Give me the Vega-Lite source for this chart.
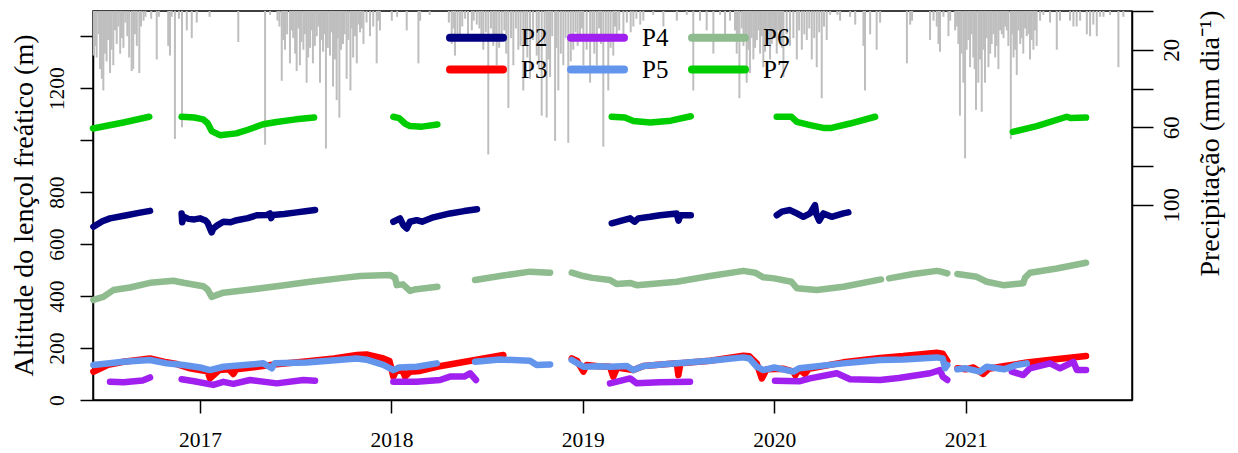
{
"$schema": "https://vega.github.io/schema/vega-lite/v6.json",
"width": 1039, "height": 389,
"autosize": {"type": "none"},
"padding": {"left": 93, "top": 11, "right": 106, "bottom": 53},
"background": "white",
"config": {
  "view": {"stroke": "black", "strokeWidth": 1.5},
  "font": "Liberation Serif",
  "axis": {"grid": false, "domainColor": "black", "tickColor": "black", "labelColor": "black", "titleColor": "black", "labelFont": "Liberation Serif", "titleFont": "Liberation Serif", "labelFontSize": 21.5, "titleFontSize": 28, "titleFontWeight": "normal", "domainWidth": 1.5, "tickWidth": 1.5}
},
"resolve": {"scale": {"y": "independent"}, "axis": {"y": "independent"}},
"layer": [
{
  "data": {"values": [
{"t":2016.445,"p":23},{"t":2016.452,"p":18},{"t":2016.46,"p":24},{"t":2016.47,"p":12},{"t":2016.478,"p":30},{"t":2016.487,"p":35},{"t":2016.495,"p":41},{"t":2016.503,"p":22},{"t":2016.512,"p":26},{"t":2016.52,"p":15},{"t":2016.53,"p":32},{"t":2016.538,"p":20},{"t":2016.547,"p":28},{"t":2016.556,"p":10},{"t":2016.565,"p":17},{"t":2016.574,"p":8},{"t":2016.583,"p":22},{"t":2016.592,"p":14},{"t":2016.6,"p":19},{"t":2016.61,"p":6},{"t":2016.62,"p":13},{"t":2016.63,"p":24},{"t":2016.643,"p":31},{"t":2016.651,"p":30},{"t":2016.66,"p":12},{"t":2016.67,"p":18},{"t":2016.683,"p":32},{"t":2016.692,"p":8},{"t":2016.705,"p":5},{"t":2016.715,"p":3},{"t":2016.745,"p":4},{"t":2016.774,"p":25},{"t":2016.785,"p":3},{"t":2016.834,"p":18},{"t":2016.843,"p":23},{"t":2016.852,"p":3},{"t":2016.869,"p":66},{"t":2016.89,"p":4},{"t":2016.906,"p":60},{"t":2016.931,"p":10},{"t":2016.957,"p":14},{"t":2016.983,"p":6},{"t":2017.05,"p":3},{"t":2017.2,"p":16},{"t":2017.34,"p":69},{"t":2017.366,"p":2},
{"t":2017.405,"p":5},{"t":2017.415,"p":8},{"t":2017.427,"p":36},{"t":2017.435,"p":15},{"t":2017.444,"p":20},{"t":2017.455,"p":12},{"t":2017.47,"p":27},{"t":2017.48,"p":10},{"t":2017.487,"p":14},{"t":2017.497,"p":22},{"t":2017.505,"p":31},{"t":2017.513,"p":9},{"t":2017.522,"p":28},{"t":2017.53,"p":16},{"t":2017.54,"p":20},{"t":2017.548,"p":12},{"t":2017.557,"p":37},{"t":2017.565,"p":24},{"t":2017.575,"p":19},{"t":2017.583,"p":10},{"t":2017.59,"p":27},{"t":2017.6,"p":18},{"t":2017.61,"p":13},{"t":2017.618,"p":8},{"t":2017.627,"p":37},{"t":2017.635,"p":15},{"t":2017.643,"p":21},{"t":2017.65,"p":12},{"t":2017.658,"p":71},{"t":2017.668,"p":19},{"t":2017.679,"p":23},{"t":2017.687,"p":11},{"t":2017.695,"p":39},{"t":2017.705,"p":25},{"t":2017.714,"p":46},{"t":2017.72,"p":14},{"t":2017.728,"p":55},{"t":2017.737,"p":20},{"t":2017.747,"p":17},{"t":2017.756,"p":12},{"t":2017.766,"p":35},{"t":2017.775,"p":15},{"t":2017.786,"p":41},{"t":2017.793,"p":9},{"t":2017.8,"p":24},{"t":2017.81,"p":13},{"t":2017.819,"p":27},{"t":2017.828,"p":7},{"t":2017.836,"p":11},{"t":2017.845,"p":9},{"t":2017.854,"p":17},{"t":2017.87,"p":6},{"t":2017.888,"p":13},{"t":2017.905,"p":8},{"t":2017.923,"p":27},{"t":2017.93,"p":5},{"t":2017.94,"p":10},
{"t":2018.002,"p":5},{"t":2018.03,"p":3},{"t":2018.08,"p":10},{"t":2018.141,"p":27},{"t":2018.15,"p":5},{"t":2018.2,"p":2},
{"t":2018.3,"p":6},{"t":2018.315,"p":17},{"t":2018.325,"p":9},{"t":2018.332,"p":23},{"t":2018.345,"p":14},{"t":2018.358,"p":12},{"t":2018.37,"p":8},{"t":2018.385,"p":4},{"t":2018.4,"p":12},{"t":2018.42,"p":10},{"t":2018.43,"p":5},{"t":2018.446,"p":7},{"t":2018.46,"p":9},{"t":2018.47,"p":14},{"t":2018.48,"p":20},{"t":2018.493,"p":11},{"t":2018.506,"p":74},{"t":2018.52,"p":9},{"t":2018.532,"p":18},{"t":2018.54,"p":13},{"t":2018.55,"p":28},{"t":2018.563,"p":19},{"t":2018.576,"p":15},{"t":2018.59,"p":10},{"t":2018.6,"p":22},{"t":2018.611,"p":50},{"t":2018.625,"p":14},{"t":2018.637,"p":28},{"t":2018.65,"p":9},{"t":2018.663,"p":20},{"t":2018.675,"p":18},{"t":2018.689,"p":41},{"t":2018.7,"p":12},{"t":2018.71,"p":24},{"t":2018.724,"p":35},{"t":2018.74,"p":15},{"t":2018.759,"p":23},{"t":2018.77,"p":30},{"t":2018.785,"p":54},{"t":2018.8,"p":18},{"t":2018.811,"p":55},{"t":2018.82,"p":25},{"t":2018.829,"p":34},{"t":2018.84,"p":13},{"t":2018.855,"p":67},{"t":2018.862,"p":19},{"t":2018.872,"p":41},{"t":2018.885,"p":22},{"t":2018.898,"p":28},{"t":2018.91,"p":14},{"t":2018.924,"p":68},{"t":2018.937,"p":26},{"t":2018.95,"p":20},{"t":2018.962,"p":11},{"t":2018.973,"p":18},{"t":2018.985,"p":15},{"t":2018.995,"p":9},{"t":2019.003,"p":28},{"t":2019.02,"p":20},{"t":2019.038,"p":37},{"t":2019.05,"p":12},{"t":2019.06,"p":22},{"t":2019.073,"p":28},{"t":2019.085,"p":9},{"t":2019.095,"p":17},{"t":2019.107,"p":70},{"t":2019.12,"p":13},{"t":2019.133,"p":41},{"t":2019.145,"p":19},{"t":2019.159,"p":23},{"t":2019.168,"p":8},{"t":2019.177,"p":12},{"t":2019.19,"p":10},{"t":2019.212,"p":12},{"t":2019.23,"p":6},{"t":2019.25,"p":11},{"t":2019.264,"p":8},{"t":2019.28,"p":4},{"t":2019.3,"p":7},{"t":2019.316,"p":5},{"t":2019.368,"p":2},{"t":2019.421,"p":8},{"t":2019.491,"p":5},{"t":2019.543,"p":2},{"t":2019.577,"p":41},{"t":2019.612,"p":5},{"t":2019.647,"p":10},{"t":2019.682,"p":22},{"t":2019.717,"p":2},{"t":2019.743,"p":12},{"t":2019.769,"p":5},
{"t":2019.795,"p":10},{"t":2019.804,"p":22},{"t":2019.81,"p":14},{"t":2019.818,"p":45},{"t":2019.83,"p":9},{"t":2019.839,"p":18},{"t":2019.848,"p":12},{"t":2019.856,"p":37},{"t":2019.865,"p":20},{"t":2019.873,"p":32},{"t":2019.882,"p":14},{"t":2019.891,"p":25},{"t":2019.9,"p":19},{"t":2019.909,"p":15},{"t":2019.918,"p":10},{"t":2019.926,"p":22},{"t":2019.935,"p":13},{"t":2019.943,"p":29},{"t":2019.952,"p":21},{"t":2019.961,"p":17},{"t":2019.97,"p":9},{"t":2019.978,"p":25},{"t":2019.987,"p":17},{"t":2019.995,"p":12},{"t":2020.004,"p":14},{"t":2020.013,"p":22},{"t":2020.022,"p":10},{"t":2020.03,"p":15},{"t":2020.04,"p":19},{"t":2020.048,"p":34},{"t":2020.065,"p":12},{"t":2020.082,"p":18},{"t":2020.1,"p":14},{"t":2020.118,"p":25},{"t":2020.13,"p":10},{"t":2020.144,"p":20},{"t":2020.157,"p":12},{"t":2020.17,"p":15},{"t":2020.183,"p":9},{"t":2020.196,"p":25},{"t":2020.209,"p":14},{"t":2020.222,"p":29},{"t":2020.235,"p":11},{"t":2020.248,"p":45},{"t":2020.26,"p":8},{"t":2020.274,"p":15},{"t":2020.292,"p":2},{"t":2020.33,"p":2},{"t":2020.344,"p":5},{"t":2020.396,"p":3},{"t":2020.423,"p":7},{"t":2020.466,"p":18},{"t":2020.474,"p":41},{"t":2020.501,"p":12},{"t":2020.535,"p":20},{"t":2020.553,"p":6},{"t":2020.693,"p":27},{"t":2020.71,"p":7},{"t":2020.72,"p":5},{"t":2020.814,"p":15},{"t":2020.832,"p":5},{"t":2020.849,"p":8},{"t":2020.858,"p":17},{"t":2020.866,"p":21},{"t":2020.884,"p":3},{"t":2020.91,"p":13},{"t":2020.919,"p":5},{"t":2020.945,"p":10},
{"t":2020.955,"p":8},{"t":2020.962,"p":17},{"t":2020.97,"p":54},{"t":2020.978,"p":22},{"t":2020.988,"p":37},{"t":2020.997,"p":76},{"t":2021.005,"p":20},{"t":2021.014,"p":15},{"t":2021.023,"p":29},{"t":2021.031,"p":12},{"t":2021.04,"p":24},{"t":2021.047,"p":30},{"t":2021.054,"p":51},{"t":2021.066,"p":37},{"t":2021.075,"p":25},{"t":2021.084,"p":52},{"t":2021.092,"p":20},{"t":2021.101,"p":37},{"t":2021.11,"p":14},{"t":2021.119,"p":29},{"t":2021.128,"p":22},{"t":2021.136,"p":17},{"t":2021.145,"p":12},{"t":2021.154,"p":24},{"t":2021.162,"p":18},{"t":2021.171,"p":30},{"t":2021.18,"p":10},{"t":2021.189,"p":12},{"t":2021.198,"p":14},{"t":2021.206,"p":8},{"t":2021.215,"p":10},{"t":2021.223,"p":18},{"t":2021.236,"p":66},{"t":2021.243,"p":12},{"t":2021.25,"p":24},{"t":2021.258,"p":20},{"t":2021.267,"p":33},{"t":2021.276,"p":10},{"t":2021.285,"p":17},{"t":2021.293,"p":14},{"t":2021.301,"p":22},{"t":2021.31,"p":9},{"t":2021.319,"p":13},{"t":2021.328,"p":12},{"t":2021.336,"p":25},{"t":2021.345,"p":15},{"t":2021.354,"p":20},{"t":2021.362,"p":10},{"t":2021.371,"p":18},{"t":2021.389,"p":5},{"t":2021.406,"p":2},{"t":2021.441,"p":6},{"t":2021.476,"p":20},{"t":2021.493,"p":5},{"t":2021.545,"p":5},{"t":2021.563,"p":8},{"t":2021.58,"p":8},{"t":2021.598,"p":5},{"t":2021.633,"p":12},{"t":2021.65,"p":13},{"t":2021.667,"p":7},{"t":2021.685,"p":13},{"t":2021.702,"p":3},{"t":2021.72,"p":3},{"t":2021.754,"p":2},{"t":2021.798,"p":29},{"t":2021.824,"p":3}
  ]},
  "mark": {"type": "rule", "color": "#BEBEBE", "strokeWidth": 2},
  "encoding": {
    "x": {"field": "t", "type": "quantitative", "scale": {"domain": [2016.441, 2021.869], "nice": false, "zero": false},
          "axis": {"orient": "bottom", "values": [2017, 2018, 2019, 2020, 2021], "format": "d", "title": null, "tickSize": 13, "labelPadding": 33, "labelBaseline": "alphabetic", "labelFlush": false}},
    "y": {"field": "p", "type": "quantitative", "scale": {"domain": [0, 200.7], "reverse": true, "nice": false, "zero": true},
          "axis": {"orient": "right", "values": [0, 20, 40, 60, 80, 100], "labelExpr": "(datum.value == 20 || datum.value == 60 || datum.value == 100) ? datum.label : ''", "tickSize": 21, "labelAngle": -90, "labelAlign": "center", "labelBaseline": "alphabetic", "labelPadding": 25, "labelFontSize": 23, "labelFlush": false, "title": "Precipitação (mm dia⁻¹)", "titleAngle": -90, "titleAlign": "center", "titleBaseline": "alphabetic", "titleX": 86, "titleY": 132}},
    "y2": {"datum": 0}
  }
},
{
  "data": {"values": [
{"s":"P2","g":"P2a","t":2016.443,"v":667},{"s":"P2","g":"P2a","t":2016.49,"v":688},{"s":"P2","g":"P2a","t":2016.53,"v":699},{"s":"P2","g":"P2a","t":2016.617,"v":711},{"s":"P2","g":"P2a","t":2016.68,"v":720},{"s":"P2","g":"P2a","t":2016.739,"v":728},
{"s":"P2","g":"P2b","t":2016.904,"v":718},{"s":"P2","g":"P2b","t":2016.907,"v":684},{"s":"P2","g":"P2b","t":2016.915,"v":705},{"s":"P2","g":"P2b","t":2016.94,"v":697},{"s":"P2","g":"P2b","t":2016.97,"v":695},{"s":"P2","g":"P2b","t":2017.0,"v":699},{"s":"P2","g":"P2b","t":2017.026,"v":692},{"s":"P2","g":"P2b","t":2017.04,"v":682},{"s":"P2","g":"P2b","t":2017.052,"v":660},{"s":"P2","g":"P2b","t":2017.061,"v":645},{"s":"P2","g":"P2b","t":2017.07,"v":660},{"s":"P2","g":"P2b","t":2017.09,"v":672},{"s":"P2","g":"P2b","t":2017.122,"v":686},{"s":"P2","g":"P2b","t":2017.16,"v":684},{"s":"P2","g":"P2b","t":2017.192,"v":692},{"s":"P2","g":"P2b","t":2017.25,"v":700},{"s":"P2","g":"P2b","t":2017.296,"v":711},{"s":"P2","g":"P2b","t":2017.35,"v":712},{"s":"P2","g":"P2b","t":2017.366,"v":718},{"s":"P2","g":"P2b","t":2017.372,"v":700},{"s":"P2","g":"P2b","t":2017.38,"v":712},{"s":"P2","g":"P2b","t":2017.44,"v":716},{"s":"P2","g":"P2b","t":2017.505,"v":722},{"s":"P2","g":"P2b","t":2017.55,"v":726},{"s":"P2","g":"P2b","t":2017.601,"v":731},
{"s":"P2","g":"P2c","t":2018.01,"v":686},{"s":"P2","g":"P2c","t":2018.045,"v":699},{"s":"P2","g":"P2c","t":2018.062,"v":673},{"s":"P2","g":"P2c","t":2018.08,"v":660},{"s":"P2","g":"P2c","t":2018.097,"v":686},{"s":"P2","g":"P2c","t":2018.132,"v":692},{"s":"P2","g":"P2c","t":2018.16,"v":686},{"s":"P2","g":"P2c","t":2018.219,"v":703},{"s":"P2","g":"P2c","t":2018.306,"v":718},{"s":"P2","g":"P2c","t":2018.38,"v":727},{"s":"P2","g":"P2c","t":2018.447,"v":734},
{"s":"P2","g":"P2d","t":2019.151,"v":680},{"s":"P2","g":"P2d","t":2019.212,"v":692},{"s":"P2","g":"P2d","t":2019.247,"v":699},{"s":"P2","g":"P2d","t":2019.27,"v":686},{"s":"P2","g":"P2d","t":2019.29,"v":699},{"s":"P2","g":"P2d","t":2019.352,"v":705},{"s":"P2","g":"P2d","t":2019.404,"v":711},{"s":"P2","g":"P2d","t":2019.49,"v":718},{"s":"P2","g":"P2d","t":2019.5,"v":690},{"s":"P2","g":"P2d","t":2019.51,"v":711},{"s":"P2","g":"P2d","t":2019.564,"v":711},
{"s":"P2","g":"P2e","t":2020.013,"v":711},{"s":"P2","g":"P2e","t":2020.04,"v":725},{"s":"P2","g":"P2e","t":2020.082,"v":731},{"s":"P2","g":"P2e","t":2020.118,"v":718},{"s":"P2","g":"P2e","t":2020.152,"v":705},{"s":"P2","g":"P2e","t":2020.187,"v":718},{"s":"P2","g":"P2e","t":2020.213,"v":750},{"s":"P2","g":"P2e","t":2020.22,"v":715},{"s":"P2","g":"P2e","t":2020.235,"v":690},{"s":"P2","g":"P2e","t":2020.257,"v":718},{"s":"P2","g":"P2e","t":2020.3,"v":705},{"s":"P2","g":"P2e","t":2020.361,"v":718},{"s":"P2","g":"P2e","t":2020.387,"v":722},
{"s":"P3","g":"P3a","t":2016.443,"v":109},{"s":"P3","g":"P3a","t":2016.52,"v":135},{"s":"P3","g":"P3a","t":2016.6,"v":147},{"s":"P3","g":"P3a","t":2016.739,"v":160},{"s":"P3","g":"P3a","t":2016.826,"v":145},{"s":"P3","g":"P3a","t":2016.87,"v":140},{"s":"P3","g":"P3a","t":2016.948,"v":122},{"s":"P3","g":"P3a","t":2017.0,"v":115},{"s":"P3","g":"P3a","t":2017.04,"v":110},{"s":"P3","g":"P3a","t":2017.052,"v":83},{"s":"P3","g":"P3a","t":2017.07,"v":95},{"s":"P3","g":"P3a","t":2017.1,"v":115},{"s":"P3","g":"P3a","t":2017.15,"v":118},{"s":"P3","g":"P3a","t":2017.174,"v":100},{"s":"P3","g":"P3a","t":2017.19,"v":118},{"s":"P3","g":"P3a","t":2017.3,"v":128},{"s":"P3","g":"P3a","t":2017.4,"v":138},{"s":"P3","g":"P3a","t":2017.55,"v":148},{"s":"P3","g":"P3a","t":2017.7,"v":160},{"s":"P3","g":"P3a","t":2017.82,"v":173},{"s":"P3","g":"P3a","t":2017.87,"v":175},{"s":"P3","g":"P3a","t":2017.958,"v":160},{"s":"P3","g":"P3a","t":2017.99,"v":150},{"s":"P3","g":"P3a","t":2018.01,"v":90},{"s":"P3","g":"P3a","t":2018.03,"v":120},{"s":"P3","g":"P3a","t":2018.06,"v":110},{"s":"P3","g":"P3a","t":2018.071,"v":90},{"s":"P3","g":"P3a","t":2018.097,"v":109},{"s":"P3","g":"P3a","t":2018.15,"v":112},{"s":"P3","g":"P3a","t":2018.237,"v":128},{"s":"P3","g":"P3a","t":2018.585,"v":173},
{"s":"P3","g":"P3b","t":2018.942,"v":160},{"s":"P3","g":"P3b","t":2018.97,"v":150},{"s":"P3","g":"P3b","t":2019.003,"v":109},{"s":"P3","g":"P3b","t":2019.02,"v":135},{"s":"P3","g":"P3b","t":2019.08,"v":130},{"s":"P3","g":"P3b","t":2019.142,"v":128},{"s":"P3","g":"P3b","t":2019.159,"v":90},{"s":"P3","g":"P3b","t":2019.18,"v":125},{"s":"P3","g":"P3b","t":2019.264,"v":115},{"s":"P3","g":"P3b","t":2019.317,"v":131},{"s":"P3","g":"P3b","t":2019.491,"v":141},{"s":"P3","g":"P3b","t":2019.499,"v":96},{"s":"P3","g":"P3b","t":2019.51,"v":141},{"s":"P3","g":"P3b","t":2019.665,"v":151},{"s":"P3","g":"P3b","t":2019.839,"v":170},{"s":"P3","g":"P3b","t":2019.87,"v":168},{"s":"P3","g":"P3b","t":2019.909,"v":140},{"s":"P3","g":"P3b","t":2019.935,"v":83},{"s":"P3","g":"P3b","t":2019.96,"v":118},{"s":"P3","g":"P3b","t":2020.05,"v":120},{"s":"P3","g":"P3b","t":2020.1,"v":109},{"s":"P3","g":"P3b","t":2020.11,"v":95},{"s":"P3","g":"P3b","t":2020.13,"v":118},{"s":"P3","g":"P3b","t":2020.16,"v":100},{"s":"P3","g":"P3b","t":2020.18,"v":120},{"s":"P3","g":"P3b","t":2020.361,"v":145},{"s":"P3","g":"P3b","t":2020.553,"v":162},{"s":"P3","g":"P3b","t":2020.674,"v":169},{"s":"P3","g":"P3b","t":2020.849,"v":182},{"s":"P3","g":"P3b","t":2020.88,"v":178},{"s":"P3","g":"P3b","t":2020.904,"v":150},
{"s":"P3","g":"P3c","t":2020.957,"v":122},{"s":"P3","g":"P3c","t":2021.0,"v":118},{"s":"P3","g":"P3c","t":2021.04,"v":125},{"s":"P3","g":"P3c","t":2021.092,"v":100},{"s":"P3","g":"P3c","t":2021.12,"v":120},{"s":"P3","g":"P3c","t":2021.197,"v":130},{"s":"P3","g":"P3c","t":2021.319,"v":144},{"s":"P3","g":"P3c","t":2021.458,"v":156},{"s":"P3","g":"P3c","t":2021.629,"v":169},
{"s":"P4","g":"P4a","t":2016.53,"v":70},{"s":"P4","g":"P4a","t":2016.6,"v":68},{"s":"P4","g":"P4a","t":2016.7,"v":75},{"s":"P4","g":"P4a","t":2016.739,"v":87},
{"s":"P4","g":"P4b","t":2016.904,"v":80},{"s":"P4","g":"P4b","t":2016.97,"v":72},{"s":"P4","g":"P4b","t":2017.069,"v":58},{"s":"P4","g":"P4b","t":2017.122,"v":70},{"s":"P4","g":"P4b","t":2017.174,"v":62},{"s":"P4","g":"P4b","t":2017.261,"v":77},{"s":"P4","g":"P4b","t":2017.401,"v":64},{"s":"P4","g":"P4b","t":2017.54,"v":77},{"s":"P4","g":"P4b","t":2017.601,"v":74},
{"s":"P4","g":"P4c","t":2018.01,"v":70},{"s":"P4","g":"P4c","t":2018.132,"v":70},{"s":"P4","g":"P4c","t":2018.254,"v":77},{"s":"P4","g":"P4c","t":2018.306,"v":90},{"s":"P4","g":"P4c","t":2018.38,"v":90},{"s":"P4","g":"P4c","t":2018.411,"v":103},{"s":"P4","g":"P4c","t":2018.442,"v":77},
{"s":"P4","g":"P4d","t":2019.142,"v":64},{"s":"P4","g":"P4d","t":2019.247,"v":83},{"s":"P4","g":"P4d","t":2019.282,"v":64},{"s":"P4","g":"P4d","t":2019.4,"v":68},{"s":"P4","g":"P4d","t":2019.56,"v":70},
{"s":"P4","g":"P4e","t":2020.004,"v":74},{"s":"P4","g":"P4e","t":2020.13,"v":72},{"s":"P4","g":"P4e","t":2020.187,"v":83},{"s":"P4","g":"P4e","t":2020.327,"v":103},{"s":"P4","g":"P4e","t":2020.396,"v":80},{"s":"P4","g":"P4e","t":2020.553,"v":77},{"s":"P4","g":"P4e","t":2020.65,"v":85},{"s":"P4","g":"P4e","t":2020.814,"v":103},{"s":"P4","g":"P4e","t":2020.866,"v":115},{"s":"P4","g":"P4e","t":2020.88,"v":90},{"s":"P4","g":"P4e","t":2020.904,"v":77},
{"s":"P4","g":"P4f","t":2021.241,"v":109},{"s":"P4","g":"P4f","t":2021.301,"v":96},{"s":"P4","g":"P4f","t":2021.336,"v":122},{"s":"P4","g":"P4f","t":2021.441,"v":141},{"s":"P4","g":"P4f","t":2021.493,"v":122},{"s":"P4","g":"P4f","t":2021.563,"v":147},{"s":"P4","g":"P4f","t":2021.581,"v":115},{"s":"P4","g":"P4f","t":2021.629,"v":115},
{"s":"P5","g":"P5a","t":2016.443,"v":135},{"s":"P5","g":"P5a","t":2016.599,"v":147},{"s":"P5","g":"P5a","t":2016.739,"v":154},{"s":"P5","g":"P5a","t":2016.826,"v":141},{"s":"P5","g":"P5a","t":2016.913,"v":135},{"s":"P5","g":"P5a","t":2017.0,"v":125},{"s":"P5","g":"P5a","t":2017.052,"v":115},{"s":"P5","g":"P5a","t":2017.122,"v":128},{"s":"P5","g":"P5a","t":2017.331,"v":141},{"s":"P5","g":"P5a","t":2017.375,"v":122},{"s":"P5","g":"P5a","t":2017.39,"v":141},{"s":"P5","g":"P5a","t":2017.557,"v":144},{"s":"P5","g":"P5a","t":2017.819,"v":160},{"s":"P5","g":"P5a","t":2017.87,"v":155},{"s":"P5","g":"P5a","t":2017.958,"v":135},{"s":"P5","g":"P5a","t":2018.01,"v":115},{"s":"P5","g":"P5a","t":2018.04,"v":125},{"s":"P5","g":"P5a","t":2018.132,"v":128},{"s":"P5","g":"P5a","t":2018.237,"v":141},
{"s":"P5","g":"P5b","t":2018.437,"v":147},{"s":"P5","g":"P5b","t":2018.567,"v":156},{"s":"P5","g":"P5b","t":2018.724,"v":151},{"s":"P5","g":"P5b","t":2018.759,"v":135},{"s":"P5","g":"P5b","t":2018.829,"v":137},
{"s":"P5","g":"P5c","t":2018.942,"v":154},{"s":"P5","g":"P5c","t":2019.003,"v":128},{"s":"P5","g":"P5c","t":2019.08,"v":130},{"s":"P5","g":"P5c","t":2019.142,"v":128},{"s":"P5","g":"P5c","t":2019.23,"v":131},{"s":"P5","g":"P5c","t":2019.264,"v":115},{"s":"P5","g":"P5c","t":2019.317,"v":131},{"s":"P5","g":"P5c","t":2019.491,"v":141},{"s":"P5","g":"P5c","t":2019.665,"v":151},{"s":"P5","g":"P5c","t":2019.839,"v":164},{"s":"P5","g":"P5c","t":2019.87,"v":160},{"s":"P5","g":"P5c","t":2019.909,"v":128},{"s":"P5","g":"P5c","t":2019.943,"v":115},{"s":"P5","g":"P5c","t":2020.0,"v":125},{"s":"P5","g":"P5c","t":2020.1,"v":109},{"s":"P5","g":"P5c","t":2020.13,"v":122},{"s":"P5","g":"P5c","t":2020.361,"v":141},{"s":"P5","g":"P5c","t":2020.553,"v":154},{"s":"P5","g":"P5c","t":2020.674,"v":156},{"s":"P5","g":"P5c","t":2020.849,"v":164},{"s":"P5","g":"P5c","t":2020.88,"v":160},{"s":"P5","g":"P5c","t":2020.892,"v":122},{"s":"P5","g":"P5c","t":2020.904,"v":135},
{"s":"P5","g":"P5d","t":2020.957,"v":118},{"s":"P5","g":"P5d","t":2021.0,"v":122},{"s":"P5","g":"P5d","t":2021.075,"v":109},{"s":"P5","g":"P5d","t":2021.11,"v":128},{"s":"P5","g":"P5d","t":2021.2,"v":118},{"s":"P5","g":"P5d","t":2021.267,"v":135},{"s":"P5","g":"P5d","t":2021.319,"v":141},
{"s":"P6","g":"P6a","t":2016.443,"v":385},{"s":"P6","g":"P6a","t":2016.495,"v":397},{"s":"P6","g":"P6a","t":2016.547,"v":423},{"s":"P6","g":"P6a","t":2016.634,"v":433},{"s":"P6","g":"P6a","t":2016.739,"v":451},{"s":"P6","g":"P6a","t":2016.861,"v":459},{"s":"P6","g":"P6a","t":2016.913,"v":451},{"s":"P6","g":"P6a","t":2017.017,"v":438},{"s":"P6","g":"P6a","t":2017.04,"v":425},{"s":"P6","g":"P6a","t":2017.061,"v":397},{"s":"P6","g":"P6a","t":2017.122,"v":413},{"s":"P6","g":"P6a","t":2017.244,"v":423},{"s":"P6","g":"P6a","t":2017.401,"v":438},{"s":"P6","g":"P6a","t":2017.575,"v":455},{"s":"P6","g":"P6a","t":2017.749,"v":470},{"s":"P6","g":"P6a","t":2017.836,"v":477},{"s":"P6","g":"P6a","t":2017.993,"v":481},{"s":"P6","g":"P6a","t":2018.019,"v":470},{"s":"P6","g":"P6a","t":2018.028,"v":442},{"s":"P6","g":"P6a","t":2018.06,"v":445},{"s":"P6","g":"P6a","t":2018.097,"v":420},{"s":"P6","g":"P6a","t":2018.12,"v":425},{"s":"P6","g":"P6a","t":2018.24,"v":436},
{"s":"P6","g":"P6b","t":2018.437,"v":462},{"s":"P6","g":"P6b","t":2018.567,"v":477},{"s":"P6","g":"P6b","t":2018.724,"v":494},{"s":"P6","g":"P6b","t":2018.829,"v":490},
{"s":"P6","g":"P6c","t":2018.942,"v":490},{"s":"P6","g":"P6c","t":2019.003,"v":477},{"s":"P6","g":"P6c","t":2019.05,"v":470},{"s":"P6","g":"P6c","t":2019.142,"v":462},{"s":"P6","g":"P6c","t":2019.177,"v":446},{"s":"P6","g":"P6c","t":2019.25,"v":450},{"s":"P6","g":"P6c","t":2019.282,"v":442},{"s":"P6","g":"P6c","t":2019.491,"v":455},{"s":"P6","g":"P6c","t":2019.665,"v":477},{"s":"P6","g":"P6c","t":2019.839,"v":497},{"s":"P6","g":"P6c","t":2019.9,"v":490},{"s":"P6","g":"P6c","t":2019.943,"v":472},{"s":"P6","g":"P6c","t":2020.0,"v":468},{"s":"P6","g":"P6c","t":2020.09,"v":455},{"s":"P6","g":"P6c","t":2020.118,"v":430},{"s":"P6","g":"P6c","t":2020.222,"v":423},{"s":"P6","g":"P6c","t":2020.361,"v":436},{"s":"P6","g":"P6c","t":2020.558,"v":464},
{"s":"P6","g":"P6d","t":2020.6,"v":468},{"s":"P6","g":"P6d","t":2020.727,"v":485},{"s":"P6","g":"P6d","t":2020.849,"v":497},{"s":"P6","g":"P6d","t":2020.866,"v":495},{"s":"P6","g":"P6d","t":2020.904,"v":487},
{"s":"P6","g":"P6e","t":2020.957,"v":485},{"s":"P6","g":"P6e","t":2021.058,"v":474},{"s":"P6","g":"P6e","t":2021.11,"v":455},{"s":"P6","g":"P6e","t":2021.197,"v":442},{"s":"P6","g":"P6e","t":2021.301,"v":449},{"s":"P6","g":"P6e","t":2021.31,"v":470},{"s":"P6","g":"P6e","t":2021.336,"v":490},{"s":"P6","g":"P6e","t":2021.476,"v":506},{"s":"P6","g":"P6e","t":2021.629,"v":528},
{"s":"P7","g":"P7a","t":2016.441,"v":1045},{"s":"P7","g":"P7a","t":2016.6,"v":1068},{"s":"P7","g":"P7a","t":2016.735,"v":1090},
{"s":"P7","g":"P7b","t":2016.904,"v":1090},{"s":"P7","g":"P7b","t":2016.97,"v":1087},{"s":"P7","g":"P7b","t":2017.017,"v":1080},{"s":"P7","g":"P7b","t":2017.04,"v":1065},{"s":"P7","g":"P7b","t":2017.061,"v":1035},{"s":"P7","g":"P7b","t":2017.104,"v":1019},{"s":"P7","g":"P7b","t":2017.19,"v":1026},{"s":"P7","g":"P7b","t":2017.25,"v":1040},{"s":"P7","g":"P7b","t":2017.33,"v":1061},{"s":"P7","g":"P7b","t":2017.4,"v":1070},{"s":"P7","g":"P7b","t":2017.5,"v":1080},{"s":"P7","g":"P7b","t":2017.596,"v":1087},
{"s":"P7","g":"P7c","t":2018.01,"v":1090},{"s":"P7","g":"P7c","t":2018.04,"v":1085},{"s":"P7","g":"P7c","t":2018.071,"v":1064},{"s":"P7","g":"P7c","t":2018.097,"v":1054},{"s":"P7","g":"P7c","t":2018.16,"v":1052},{"s":"P7","g":"P7c","t":2018.24,"v":1060},
{"s":"P7","g":"P7d","t":2019.151,"v":1090},{"s":"P7","g":"P7d","t":2019.22,"v":1087},{"s":"P7","g":"P7d","t":2019.264,"v":1074},{"s":"P7","g":"P7d","t":2019.352,"v":1068},{"s":"P7","g":"P7d","t":2019.46,"v":1075},{"s":"P7","g":"P7d","t":2019.564,"v":1092},
{"s":"P7","g":"P7e","t":2020.013,"v":1090},{"s":"P7","g":"P7e","t":2020.09,"v":1090},{"s":"P7","g":"P7e","t":2020.118,"v":1070},{"s":"P7","g":"P7e","t":2020.187,"v":1058},{"s":"P7","g":"P7e","t":2020.257,"v":1047},{"s":"P7","g":"P7e","t":2020.3,"v":1047},{"s":"P7","g":"P7e","t":2020.396,"v":1064},{"s":"P7","g":"P7e","t":2020.527,"v":1090},
{"s":"P7","g":"P7f","t":2021.246,"v":1032},{"s":"P7","g":"P7f","t":2021.371,"v":1054},{"s":"P7","g":"P7f","t":2021.528,"v":1090},{"s":"P7","g":"P7f","t":2021.55,"v":1085},{"s":"P7","g":"P7f","t":2021.629,"v":1087}
  ]},
  "mark": {"type": "line", "strokeWidth": 6.5, "strokeCap": "round", "strokeJoin": "round"},
  "encoding": {
    "x": {"field": "t", "type": "quantitative"},
    "y": {"field": "v", "type": "quantitative", "scale": {"domain": [0, 1497], "nice": false},
          "axis": {"orient": "left", "values": [0, 200, 400, 600, 800, 1000, 1200, 1400], "format": "d", "labelExpr": "(datum.value == 1000 || datum.value == 1400) ? '' : datum.label", "tickSize": 13, "labelAngle": -90, "labelAlign": "center", "labelBaseline": "alphabetic", "labelPadding": 17, "labelFlush": false, "title": "Altitude do lençol freático (m)", "titleAngle": -90, "titleAlign": "center", "titleBaseline": "alphabetic", "titleX": -61, "titleY": 194}},
    "color": {"field": "s", "type": "nominal",
      "scale": {"domain": ["P2", "P3", "P4", "P5", "P6", "P7"], "range": ["#000080", "#FF0000", "#A020F0", "#6495ED", "#8FBC8F", "#00CD00"]},
      "legend": {"orient": "none", "legendX": 353, "legendY": 14, "columns": 3, "title": null, "symbolType": "stroke", "symbolSize": 2809, "symbolStrokeWidth": 8, "labelFont": "Liberation Serif", "labelFontSize": 25, "labelColor": "black", "labelOffset": 14, "columnPadding": 19, "rowPadding": 6, "clipHeight": 25, "padding": 0, "symbolOpacity": 1, "encode": {"symbols": {"update": {"strokeCap": {"value": "round"}}}}}},
    "detail": {"field": "g"}
  }
}
]
}
